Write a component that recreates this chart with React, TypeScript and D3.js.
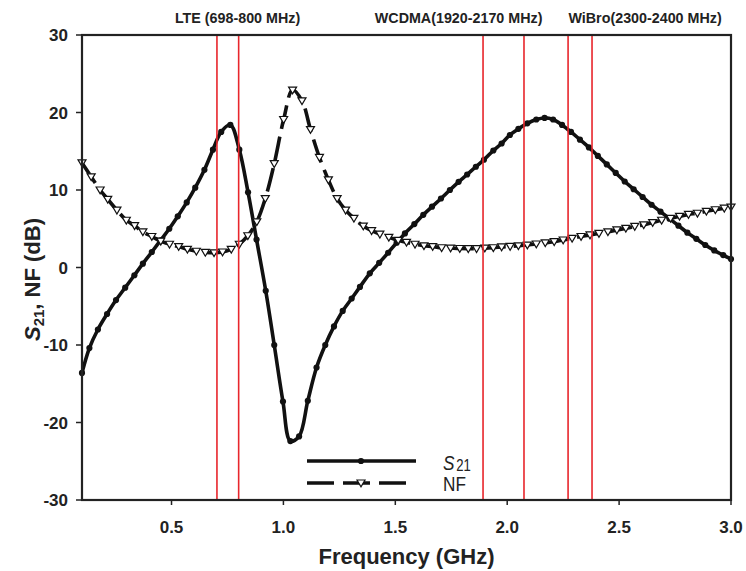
import React from "react";
import * as d3 from "d3";

// ---- Data ----
const S21_FREQ = [
  0.1, 0.133, 0.171, 0.212, 0.252, 0.293, 0.334, 0.372, 0.412, 0.451, 0.49, 0.528, 0.568, 0.606, 0.647,
  0.685, 0.722, 0.763, 0.803, 0.842, 0.88, 0.921, 0.959, 0.998, 1.031, 1.07, 1.109, 1.148, 1.187, 1.226,
  1.265, 1.305, 1.342, 1.386, 1.428, 1.468, 1.506, 1.543, 1.585, 1.625, 1.664, 1.704, 1.744, 1.783, 1.821,
  1.86, 1.896, 1.938, 1.975, 2.012, 2.05, 2.09, 2.13, 2.167, 2.205, 2.245, 2.285, 2.325, 2.365, 2.405,
  2.445, 2.485, 2.525, 2.565, 2.605, 2.645, 2.685, 2.725, 2.765, 2.805, 2.845, 2.885, 2.925, 2.965, 3.0,
];
const S21_DB = [
  -13.6, -10.4, -8.0, -6.0, -4.2, -2.6, -1.0, 0.5, 2.0, 3.5, 5.0, 6.6, 8.4, 10.3, 12.6,
  15.2, 17.5, 18.4, 15.2, 9.7, 3.6, -3.0, -10.0, -17.3, -22.4, -21.8, -17.2, -12.9, -10.0, -7.6,
  -5.6, -4.0, -2.5, -0.75, 0.6, 1.9, 3.2, 4.4, 5.6, 6.8, 7.85, 8.9, 10.0, 11.05, 12.0,
  13.0, 13.9, 15.1, 16.0, 17.1, 17.9, 18.6, 19.1, 19.3, 19.1, 18.4, 17.5, 16.5, 15.5, 14.4,
  13.3, 12.2, 11.1, 10.1, 9.1, 8.1, 7.2, 6.3, 5.4, 4.5, 3.7, 2.9, 2.2, 1.6, 1.1,
];
const NF_FREQ = [
  0.1, 0.141, 0.181, 0.215, 0.256, 0.298, 0.335, 0.372, 0.412, 0.452, 0.491, 0.532, 0.571, 0.611, 0.651,
  0.69, 0.728, 0.767, 0.803, 0.841, 0.881, 0.919, 0.959, 1.001, 1.041, 1.083, 1.121, 1.161, 1.201, 1.24,
  1.278, 1.315, 1.357, 1.394, 1.431, 1.471, 1.513, 1.55, 1.588, 1.628, 1.667, 1.707, 1.747, 1.788, 1.826,
  1.863, 1.9, 1.938, 1.975, 2.013, 2.05, 2.09, 2.13, 2.17, 2.21, 2.25, 2.29, 2.33, 2.37, 2.41,
  2.45, 2.49, 2.53, 2.57, 2.61, 2.65, 2.69, 2.73, 2.77, 2.81, 2.85, 2.89, 2.93, 2.97, 3.0,
];
const NF_DB = [
  13.5, 11.7, 10.0, 8.8, 7.4, 6.1, 5.4, 4.6, 4.0, 3.4, 3.0, 2.7, 2.35, 2.1, 1.95,
  1.9, 2.0, 2.35, 3.0, 4.1, 5.9, 8.9, 13.4, 19.1, 22.9, 21.5, 17.8, 14.2, 11.3, 8.9,
  7.4, 6.35, 5.35, 4.75, 4.3, 3.9, 3.5, 3.25, 3.0, 2.8, 2.7, 2.55, 2.5, 2.45, 2.43,
  2.43, 2.5, 2.55, 2.65, 2.72, 2.8, 2.9, 3.03, 3.18, 3.33, 3.55, 3.77, 4.0, 4.2, 4.4,
  4.6, 4.85, 5.05, 5.3, 5.5, 5.8, 6.1, 6.35, 6.6, 6.85, 7.0, 7.25, 7.45, 7.65, 7.8,
];
const BAND_LABELS = ["LTE (698-800 MHz)", "WCDMA(1920-2170 MHz)", "WiBro(2300-2400 MHz)"];
const BAND_LO = [0.703, 1.892, 2.272];
const BAND_HI = [0.8, 2.075, 2.379];
const BAND_LABEL_AT = [0.795, 1.783, 2.616];
const X_TICKS = [0.5, 1.0, 1.5, 2.0, 2.5, 3.0];
const Y_TICKS = [-30, -20, -10, 0, 10, 20, 30];

const W = 746;
const H = 571;
const M = { left: 82, right: 731, top: 35, bottom: 500 };
const FONT = "'Liberation Sans', Arial, Helvetica, sans-serif";

export default function App() {
  const x = d3.scaleLinear().domain([0.1, 3.0]).range([M.left, M.right]);
  const y = d3.scaleLinear().domain([-30, 30]).range([M.bottom, M.top]);

  const s21 = S21_FREQ.map((f, i) => [f, S21_DB[i]] as [number, number]);
  const nf = NF_FREQ.map((f, i) => [f, NF_DB[i]] as [number, number]);

  const line = d3
    .line<[number, number]>()
    .x((d) => x(d[0]))
    .y((d) => y(d[1]))
    .curve(d3.curveCatmullRom.alpha(0.5));

  const tri = (cx: number, cy: number, s = 4) =>
    `M${cx - s},${cy - s * 0.75}L${cx + s},${cy - s * 0.75}L${cx},${cy + s * 0.95}Z`;

  const red = "#e8262c";

  return (
    <svg width={W} height={H} style={{ position: "absolute", left: 0, top: 0, background: "#fff" }}>
      {/* NF curve */}
      <path d={line(nf) || ""} fill="none" stroke="#111" strokeWidth={3.6} strokeDasharray="24,8" />
      {/* S21 curve */}
      <path d={line(s21) || ""} fill="none" stroke="#111" strokeWidth={3.6} />
      {s21.map((d, i) => (
        <circle key={"s" + i} cx={x(d[0])} cy={y(d[1])} r={3.1} fill="#111" />
      ))}
      {nf.map((d, i) => (
        <path key={"n" + i} d={tri(x(d[0]), y(d[1]))} fill="#fff" stroke="#111" strokeWidth={1.2} />
      ))}

      {/* band boxes */}
      {BAND_LO.map((lo, i) => (
        <rect
          key={"b" + i}
          x={x(lo)}
          y={M.top}
          width={x(BAND_HI[i]) - x(lo)}
          height={M.bottom - M.top}
          fill="none"
          stroke={red}
          strokeWidth={1.6}
        />
      ))}
      {BAND_LABELS.map((t, i) => (
        <text
          key={"bl" + i}
          x={x(BAND_LABEL_AT[i])}
          y={23}
          textAnchor="middle"
          fontFamily={FONT}
          fontWeight="bold"
          fontSize={14.3}
          fill="#222"
        >
          {t}
        </text>
      ))}

      {/* frame */}
      <rect
        x={M.left}
        y={M.top}
        width={M.right - M.left}
        height={M.bottom - M.top}
        fill="none"
        stroke="#222"
        strokeWidth={2.2}
      />

      {/* y axis */}
      {Y_TICKS.map((t) => (
        <g key={"y" + t}>
          <line x1={M.left - 6} x2={M.left} y1={y(t)} y2={y(t)} stroke="#222" strokeWidth={1.5} />
          <text
            x={68}
            y={y(t) + 6}
            textAnchor="end"
            fontFamily={FONT}
            fontWeight="bold"
            fontSize={17}
            fill="#222"
          >
            {t}
          </text>
        </g>
      ))}
      {/* x axis */}
      {X_TICKS.map((t) => (
        <g key={"x" + t}>
          <line x1={x(t)} x2={x(t)} y1={M.bottom} y2={M.bottom + 5} stroke="#222" strokeWidth={1.5} />
          <text
            x={x(t)}
            y={533}
            textAnchor="middle"
            fontFamily={FONT}
            fontWeight="bold"
            fontSize={17}
            fill="#222"
          >
            {t.toFixed(1)}
          </text>
        </g>
      ))}

      <text
        x={(M.left + M.right) / 2}
        y={564}
        textAnchor="middle"
        fontFamily={FONT}
        fontWeight="bold"
        fontSize={22}
        fill="#222"
      >
        Frequency (GHz)
      </text>
      <text
        transform={`translate(40,${(M.top + M.bottom) / 2 + 12}) rotate(-90)`}
        textAnchor="middle"
        fontFamily={FONT}
        fontWeight="bold"
        fontSize={22}
        fill="#222"
      >
        <tspan fontStyle="italic">S</tspan>
        <tspan fontSize={15} dy={4}>21</tspan>
        <tspan dy={-4}>, NF (dB)</tspan>
      </text>

      {/* legend */}
      <line x1={307} x2={416} y1={461} y2={461} stroke="#111" strokeWidth={3.6} />
      <circle cx={361} cy={461} r={3.1} fill="#111" />
      <line x1={307} x2={406} y1={483} y2={483} stroke="#111" strokeWidth={3.6} strokeDasharray="27,9" />
      <path d={tri(361, 483)} fill="#fff" stroke="#111" strokeWidth={1.2} />
      <text transform="translate(443,470) scale(0.82,1)" fontFamily={FONT} fontSize={21} fill="#222">
        <tspan fontStyle="italic">S</tspan>
        <tspan fontSize={16} dx={2} dy={1}>21</tspan>
      </text>
      <text transform="translate(443,491) scale(0.82,1)" fontFamily={FONT} fontSize={21} fill="#222">
        NF
      </text>
    </svg>
  );
}
